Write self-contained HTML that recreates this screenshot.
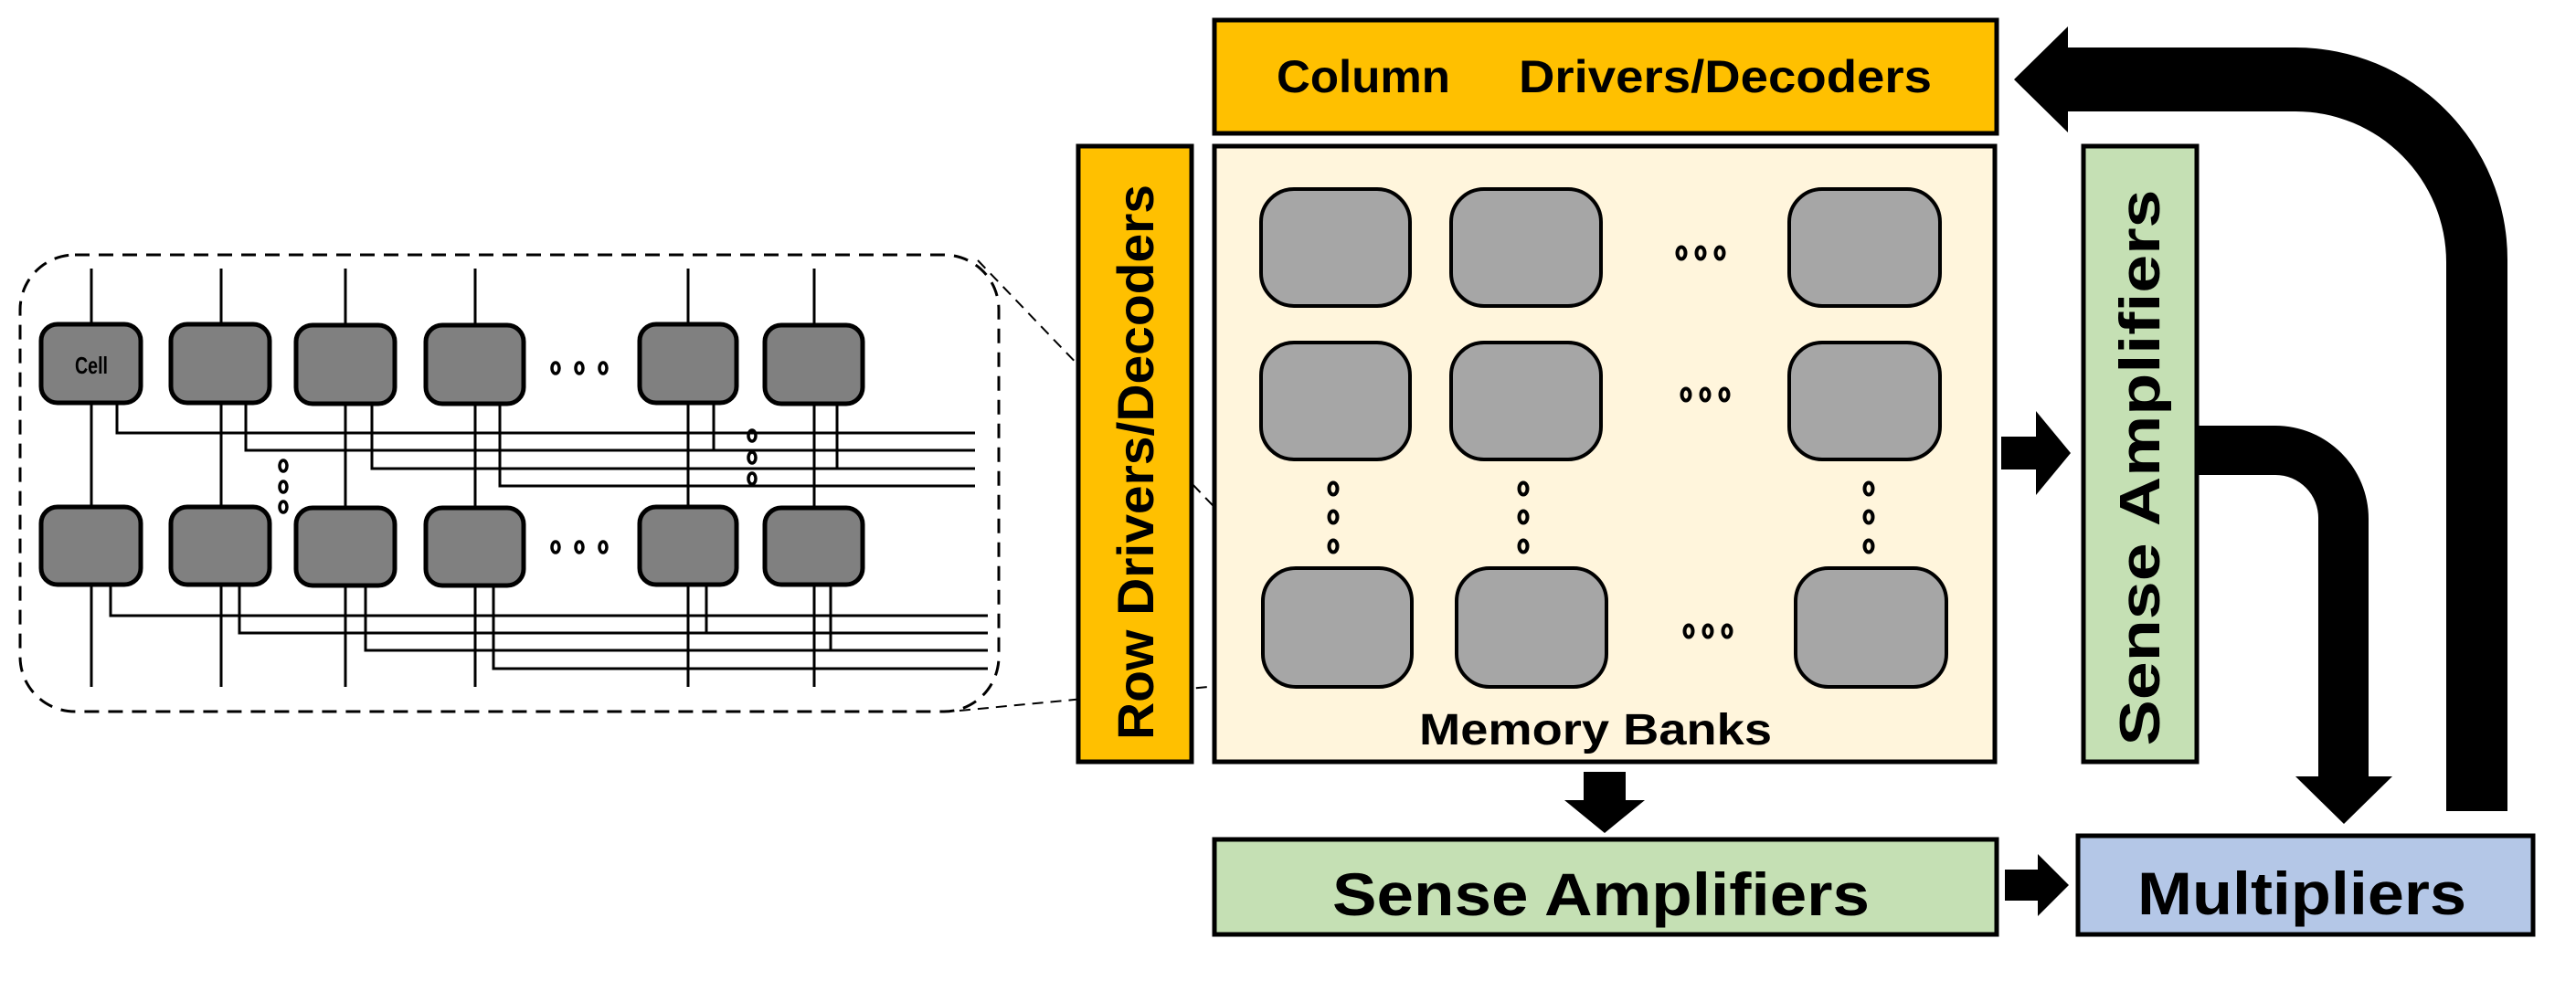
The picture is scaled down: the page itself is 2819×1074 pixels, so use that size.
<!DOCTYPE html>
<html><head><meta charset="utf-8"><style>html,body{margin:0;padding:0;background:#fff}svg{display:block}</style></head>
<body>
<svg width="2819" height="1074" viewBox="0 0 2819 1074" xmlns="http://www.w3.org/2000/svg" font-family="Liberation Sans, sans-serif" font-weight="bold">
<!-- detail left -->
<rect x="22" y="279" width="1071" height="500" rx="60" fill="none" stroke="#000" stroke-width="3" stroke-dasharray="16,10"/>
<line x1="1070" y1="285" x2="1393" y2="622" stroke="#000" stroke-width="2" stroke-dasharray="12,8"/>
<line x1="1050" y1="778" x2="1395" y2="745" stroke="#000" stroke-width="2" stroke-dasharray="12,8"/>
<g stroke="#000" stroke-width="3" fill="none">
<line x1="100" y1="294" x2="100" y2="752"/><line x1="242" y1="294" x2="242" y2="752"/><line x1="378" y1="294" x2="378" y2="752"/><line x1="520" y1="294" x2="520" y2="752"/><line x1="753" y1="294" x2="753" y2="752"/><line x1="891" y1="294" x2="891" y2="752"/>
<polyline points="128,420 128,474 1067,474"/><polyline points="269,420 269,493 1067,493"/><polyline points="407,420 407,513 1067,513"/><polyline points="547,420 547,532 1067,532"/><line x1="781" y1="420" x2="781" y2="493"/><line x1="916" y1="420" x2="916" y2="513"/>
<polyline points="121,620 121,674 1081,674"/><polyline points="262,620 262,693 1081,693"/><polyline points="400,620 400,712 1081,712"/><polyline points="540,620 540,732 1081,732"/><line x1="773" y1="620" x2="773" y2="693"/><line x1="909" y1="620" x2="909" y2="712"/>
</g>
<g fill="#808080" stroke="#000" stroke-width="5">
<rect x="45" y="355" width="109" height="86" rx="18"/><rect x="187" y="355" width="108" height="86" rx="18"/><rect x="324" y="356" width="108" height="86" rx="18"/><rect x="466" y="356" width="107" height="86" rx="18"/><rect x="700" y="355" width="106" height="86" rx="18"/><rect x="837" y="356" width="107" height="86" rx="18"/>
<rect x="45" y="555" width="109" height="85" rx="18"/><rect x="187" y="555" width="108" height="85" rx="18"/><rect x="324" y="556" width="108" height="85" rx="18"/><rect x="466" y="556" width="107" height="85" rx="18"/><rect x="700" y="555" width="106" height="85" rx="18"/><rect x="837" y="556" width="107" height="84" rx="18"/>
</g>
<text x="100" y="409" font-size="26" text-anchor="middle" textLength="36" lengthAdjust="spacingAndGlyphs">Cell</text>
<g fill="none" stroke="#000" stroke-width="3.5">
<ellipse cx="608" cy="403" rx="4" ry="6"/><ellipse cx="634" cy="403" rx="4" ry="6"/><ellipse cx="660" cy="403" rx="4" ry="6"/>
<ellipse cx="608" cy="599" rx="4" ry="6"/><ellipse cx="634" cy="599" rx="4" ry="6"/><ellipse cx="660" cy="599" rx="4" ry="6"/>
<ellipse cx="310" cy="510" rx="4" ry="6"/><ellipse cx="310" cy="533" rx="4" ry="6"/><ellipse cx="310" cy="555" rx="4" ry="6"/>
<ellipse cx="823" cy="477" rx="4" ry="6"/><ellipse cx="823" cy="501" rx="4" ry="6"/><ellipse cx="823" cy="524" rx="4" ry="6"/>
</g>
<!-- right diagram boxes -->
<rect x="1329" y="22" width="856" height="124" fill="#ffc000" stroke="#000" stroke-width="5"/>
<text x="1397" y="101" font-size="50" textLength="190" lengthAdjust="spacingAndGlyphs">Column</text>
<text x="1662" y="101" font-size="50" textLength="452" lengthAdjust="spacingAndGlyphs">Drivers/Decoders</text>
<rect x="1180" y="160" width="124" height="674" fill="#ffc000" stroke="#000" stroke-width="5"/>
<text transform="translate(1262,506) rotate(-90)" font-size="56" text-anchor="middle" textLength="608" lengthAdjust="spacingAndGlyphs">Row Drivers/Decoders</text>
<rect x="1329" y="160" width="854" height="674" fill="#fff5dc" stroke="#000" stroke-width="5"/>
<g fill="#a6a6a6" stroke="#000" stroke-width="4">
<rect x="1380" y="207" width="163" height="128" rx="36"/><rect x="1588" y="207" width="164" height="128" rx="36"/><rect x="1958" y="207" width="165" height="128" rx="36"/>
<rect x="1380" y="375" width="163" height="128" rx="36"/><rect x="1588" y="375" width="164" height="128" rx="36"/><rect x="1958" y="375" width="165" height="128" rx="36"/>
<rect x="1382" y="622" width="163" height="130" rx="36"/><rect x="1594" y="622" width="164" height="130" rx="36"/><rect x="1965" y="622" width="165" height="130" rx="36"/>
</g>
<g fill="none" stroke="#000" stroke-width="4">
<ellipse cx="1840" cy="277" rx="4.5" ry="6.5"/><ellipse cx="1861" cy="277" rx="4.5" ry="6.5"/><ellipse cx="1882" cy="277" rx="4.5" ry="6.5"/>
<ellipse cx="1845" cy="432" rx="4.5" ry="6.5"/><ellipse cx="1866" cy="432" rx="4.5" ry="6.5"/><ellipse cx="1887" cy="432" rx="4.5" ry="6.5"/>
<ellipse cx="1848" cy="691" rx="4.5" ry="6.5"/><ellipse cx="1869" cy="691" rx="4.5" ry="6.5"/><ellipse cx="1890" cy="691" rx="4.5" ry="6.5"/>
<ellipse cx="1459" cy="535" rx="4.5" ry="6.5"/><ellipse cx="1459" cy="566" rx="4.5" ry="6.5"/><ellipse cx="1459" cy="598" rx="4.5" ry="6.5"/>
<ellipse cx="1667" cy="535" rx="4.5" ry="6.5"/><ellipse cx="1667" cy="566" rx="4.5" ry="6.5"/><ellipse cx="1667" cy="598" rx="4.5" ry="6.5"/>
<ellipse cx="2045" cy="535" rx="4.5" ry="6.5"/><ellipse cx="2045" cy="566" rx="4.5" ry="6.5"/><ellipse cx="2045" cy="598" rx="4.5" ry="6.5"/>
</g>
<text x="1553" y="815" font-size="48" textLength="386" lengthAdjust="spacingAndGlyphs">Memory Banks</text>
<rect x="2280" y="160" width="124" height="674" fill="#c5e0b4" stroke="#000" stroke-width="5"/>
<text transform="translate(2363,512) rotate(-90)" font-size="62" text-anchor="middle" textLength="609" lengthAdjust="spacingAndGlyphs">Sense Amplifiers</text>
<rect x="1329" y="919" width="856" height="104" fill="#c5e0b4" stroke="#000" stroke-width="5"/>
<text x="1458" y="1002" font-size="66" textLength="588" lengthAdjust="spacingAndGlyphs">Sense Amplifiers</text>
<rect x="2274" y="915" width="498" height="108" fill="#b4c7e7" stroke="#000" stroke-width="5"/>
<text x="2339" y="1001" font-size="66" textLength="360" lengthAdjust="spacingAndGlyphs">Multipliers</text>
<!-- arrows -->
<g fill="#000">
<path d="M2263,52 L2512,52 A232,232 0 0 1 2744,284 L2744,888 L2677,888 L2677,287 A165,165 0 0 0 2512,122 L2263,122 L2263,145 L2204,87 L2263,29 Z"/>
<path d="M2406,466 L2490,466 A102,102 0 0 1 2592,568 L2592,850 L2618,850 L2565,902 L2512,850 L2537,850 L2537,568 A47,47 0 0 0 2490,520 L2406,520 Z"/>
<path d="M2190,478 L2228,478 L2228,450 L2266,496 L2228,542 L2228,514 L2190,514 Z"/>
<path d="M1733,845 L1779,845 L1779,876 L1800,876 L1756,912 L1712,876 L1733,876 Z"/>
<path d="M2194,952 L2230,952 L2230,935 L2264,969 L2230,1003 L2230,986 L2194,986 Z"/>
</g>
</svg>
</body></html>
